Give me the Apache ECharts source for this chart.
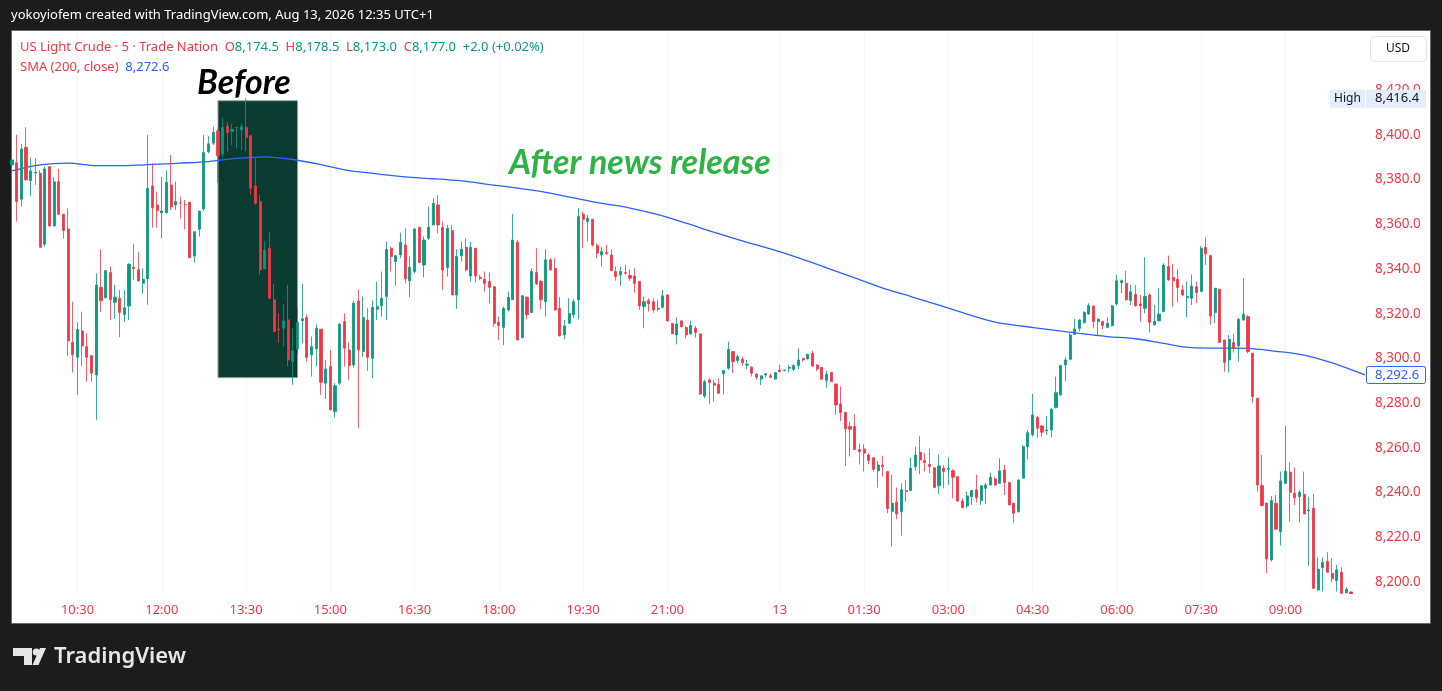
<!DOCTYPE html>
<html>
<head>
<meta charset="utf-8">
<script src="https://cdn.jsdelivr.net/npm/echarts@6/dist/echarts.min.js"></script>
<style>
html,body{margin:0;padding:0;background:#1c1c1c;}
#chart{width:1442px;height:691px;}
</style>
</head>
<body>
<div id="chart"></div>
<script>
// ---------- DATA ----------
// sessions: [day, first bar time, number of 5-minute bars] (trading break 22:00-23:00)
const sessions = [["12", "09:20", 152], ["12", "23:00", 138]];
// axis tick labels (category -> display text)
const tickCategories = ["12 10:30","12 12:00","12 13:30","12 15:00","12 16:30","12 18:00","12 19:30","12 21:00","13 00:00","13 01:30","13 03:00","13 04:30","13 06:00","13 07:30","13 09:00"];
const tickLabels = ["10:30","12:00","13:30","15:00","16:30","18:00","19:30","21:00","13","01:30","03:00","04:30","06:00","07:30","09:00"];
const priceTicks = [8200,8220,8240,8260,8280,8300,8320,8340,8360,8380,8400,8420];

// bars [open, high, low, close] — Aug 12, 09:20 .. 21:55
const barsAug12 = [
[8386.6,8392.0,8385.0,8388.8],[8387.6,8400.0,8361.2,8370.2],[8371.2,8396.0,8368.0,8393.7],[8394.5,8403.4,8379.5,8379.9],
[8379.6,8389.9,8372.7,8383.9],[8383.0,8389.6,8377.6,8383.3],[8382.8,8384.3,8349.7,8349.7],[8351.1,8385.8,8350.0,8384.8],
[8385.8,8386.0,8359.0,8359.3],[8359.3,8381.1,8359.0,8379.0],[8379.1,8384.8,8364.5,8364.5],[8364.5,8364.5,8353.5,8357.2],
[8357.9,8367.2,8301.1,8307.8],[8307.2,8325.4,8293.7,8301.6],[8300.5,8316.2,8283.7,8312.9],[8312.3,8320.9,8296.4,8305.6],
[8305.3,8311.3,8289.6,8300.5],[8301.3,8301.3,8289.6,8293.4],[8292.6,8338.1,8272.5,8332.9],[8331.8,8348.8,8320.9,8325.9],
[8327.1,8339.3,8327.0,8339.3],[8338.5,8341.1,8317.2,8326.2],[8325.1,8332.9,8317.7,8327.4],[8326.9,8330.6,8309.5,8320.6],
[8319.6,8330.6,8316.5,8322.7],[8323.5,8342.6,8317.2,8342.1],[8340.9,8351.2,8335.1,8340.2],[8339.7,8347.5,8334.4,8334.7],
[8333.6,8340.3,8328.9,8335.4],[8335.7,8400.0,8324.0,8376.1],[8377.2,8387.3,8358.5,8367.5],[8368.7,8374.6,8358.5,8366.1],
[8365.1,8381.1,8353.8,8366.0],[8365.2,8384.1,8364.9,8378.8],[8377.6,8391.0,8366.4,8367.8],[8368.7,8379.1,8366.4,8370.2],
[8369.6,8372.4,8362.6,8369.6],[8368.8,8370.9,8357.8,8368.8],[8369.9,8369.9,8344.8,8345.1],[8345.8,8356.7,8342.9,8356.7],
[8357.8,8366.0,8354.5,8366.0],[8366.9,8400.0,8366.0,8392.1],[8392.5,8399.5,8391.8,8396.0],[8396.3,8403.7,8395.5,8401.2],
[8401.8,8402.4,8378.8,8390.6],[8391.4,8407.5,8389.9,8403.4],[8404.0,8406.0,8392.5,8401.0],[8401.5,8404.8,8395.5,8402.5],
[8403.3,8403.6,8394.0,8403.3],[8402.2,8405.2,8393.3,8403.7],[8403.4,8416.4,8392.8,8398.8],[8399.6,8400.0,8373.2,8376.1],
[8377.2,8389.6,8368.7,8369.4],[8370.2,8373.2,8337.4,8339.6],[8340.0,8352.6,8340.0,8348.5],[8349.3,8356.5,8326.6,8326.9],
[8326.2,8333.3,8311.7,8312.0],[8313.2,8320.2,8307.2,8312.8],[8313.5,8324.2,8305.3,8316.8],[8317.2,8332.9,8296.4,8299.3],
[8298.6,8313.5,8288.2,8303.4],[8304.3,8322.5,8301.9,8316.0],[8316.9,8333.3,8306.8,8317.7],[8318.3,8319.8,8298.6,8300.5],
[8301.6,8309.8,8291.9,8305.3],[8304.3,8315.3,8296.4,8313.5],[8313.1,8313.1,8283.7,8289.3],[8288.9,8299.3,8281.9,8295.3],
[8296.4,8303.8,8277.0,8277.0],[8276.2,8288.9,8273.5,8287.8],[8288.9,8315.7,8288.2,8315.3],[8316.5,8320.2,8296.4,8304.6],
[8303.8,8307.2,8290.4,8296.8],[8297.1,8325.9,8295.9,8324.7],[8325.7,8331.0,8268.8,8303.8],[8303.1,8327.7,8300.8,8318.3],
[8317.2,8322.5,8294.4,8300.5],[8300.1,8325.9,8291.1,8322.9],[8322.0,8334.4,8317.2,8323.2],[8323.6,8338.9,8318.7,8326.9],
[8327.7,8352.3,8317.2,8348.8],[8349.3,8350.0,8338.9,8345.6],[8343.3,8346.3,8332.6,8345.9],[8346.3,8356.3,8344.8,8352.0],
[8350.8,8358.2,8333.6,8335.6],[8334.7,8345.6,8327.4,8340.8],[8338.9,8358.2,8338.1,8357.9],[8358.7,8358.7,8342.6,8342.9],
[8341.8,8354.5,8336.3,8353.0],[8353.8,8367.9,8353.0,8358.7],[8359.7,8371.7,8359.7,8369.4],[8368.7,8372.9,8356.0,8359.7],
[8358.7,8361.2,8330.7,8339.6],[8340.6,8359.7,8336.6,8358.2],[8357.2,8359.7,8328.4,8328.4],[8328.4,8348.9,8322.2,8345.6],
[8345.9,8352.3,8343.3,8348.9],[8349.7,8353.8,8338.9,8339.6],[8336.9,8352.3,8334.4,8349.7],[8349.3,8349.3,8333.9,8336.9],
[8336.3,8337.4,8335.1,8335.7],[8335.4,8338.9,8329.9,8333.6],[8334.4,8338.4,8324.7,8331.8],[8332.1,8332.1,8314.2,8315.7],
[8316.2,8318.7,8308.3,8314.7],[8313.9,8323.2,8306.0,8322.4],[8321.7,8329.9,8321.0,8327.4],[8326.2,8364.6,8326.2,8353.0],
[8352.0,8353.0,8308.0,8308.3],[8309.3,8328.4,8309.0,8328.0],[8327.4,8327.7,8317.5,8319.5],[8320.5,8340.3,8320.5,8338.9],
[8338.4,8349.3,8332.9,8333.3],[8334.4,8335.1,8322.0,8326.2],[8325.4,8348.9,8318.7,8344.1],[8344.1,8344.8,8339.3,8339.6],
[8340.3,8344.8,8321.4,8321.7],[8322.4,8327.4,8309.8,8310.2],[8310.5,8317.2,8308.6,8314.5],[8315.7,8326.9,8315.7,8320.2],
[8319.5,8326.5,8318.0,8325.4],[8326.2,8367.2,8317.5,8363.5],[8364.5,8365.7,8349.3,8362.3],[8361.2,8364.2,8352.3,8362.7],
[8362.3,8362.3,8350.0,8350.8],[8350.5,8351.5,8344.8,8347.1],[8346.3,8350.0,8341.1,8347.8],[8347.4,8350.8,8346.3,8346.9],
[8346.3,8348.8,8339.3,8339.3],[8338.9,8341.1,8334.8,8336.6],[8337.4,8341.1,8332.4,8338.9],[8338.4,8341.8,8337.4,8338.1],
[8337.1,8339.9,8334.8,8335.9],[8336.9,8340.3,8329.5,8333.6],[8334.4,8334.4,8321.7,8323.5],[8323.2,8327.7,8313.5,8325.4],
[8325.9,8326.9,8321.0,8324.4],[8325.4,8326.9,8320.5,8321.7],[8322.0,8326.2,8321.0,8322.4],[8322.9,8330.7,8322.4,8328.0],
[8328.4,8328.7,8316.5,8316.8],[8315.7,8315.7,8311.0,8311.0],[8310.5,8318.4,8306.3,8315.4],[8316.8,8317.2,8313.8,8314.2],
[8313.8,8314.5,8309.0,8310.5],[8311.0,8316.9,8310.5,8314.7],[8313.5,8314.5,8309.3,8311.6],[8311.0,8311.0,8283.7,8284.1],
[8283.2,8290.4,8282.2,8289.6],[8290.4,8291.1,8279.6,8289.2],[8288.9,8290.4,8280.7,8288.0],[8288.4,8291.1,8284.1,8284.4]
];
// bars [open, high, low, close] — from 23:00 (Aug 12) onward
const barsAug13 = [
[8293.1,8294.9,8283.7,8294.6],[8295.6,8307.5,8294.9,8304.1],[8303.1,8303.1,8293.4,8298.6],[8299.0,8301.6,8297.8,8300.8],
[8299.6,8300.8,8296.8,8298.1],[8297.0,8299.3,8295.2,8297.4],[8296.1,8296.4,8291.9,8293.4],[8292.9,8293.4,8290.4,8291.6],
[8290.8,8292.3,8288.1,8292.2],[8292.6,8293.4,8291.4,8293.1],[8292.3,8293.4,8291.1,8291.6],[8290.8,8293.8,8290.4,8293.7],
[8294.8,8297.1,8293.8,8294.1],[8294.5,8295.1,8294.4,8294.8],[8295.6,8297.1,8293.8,8296.0],[8295.1,8297.4,8294.4,8296.8],
[8296.8,8304.5,8295.3,8299.3],[8300.1,8300.1,8298.6,8299.3],[8299.8,8302.0,8299.6,8301.9],[8302.3,8303.4,8296.3,8296.6],
[8297.1,8297.4,8294.4,8295.3],[8296.0,8296.0,8290.4,8290.7],[8290.2,8294.4,8286.9,8292.9],[8293.7,8293.7,8289.6,8289.6],
[8288.6,8288.6,8274.7,8279.2],[8279.6,8287.4,8272.0,8275.8],[8275.9,8275.9,8251.9,8268.5],[8269.5,8271.7,8256.1,8268.3],
[8269.5,8275.0,8259.0,8259.3],[8259.3,8262.0,8252.6,8258.3],[8259.5,8261.6,8249.4,8257.6],[8256.8,8257.6,8252.8,8254.3],
[8255.6,8255.6,8249.4,8250.4],[8249.7,8254.1,8242.2,8252.3],[8252.3,8256.5,8247.1,8251.6],[8249.4,8249.4,8230.7,8232.7],
[8231.5,8247.9,8215.8,8235.2],[8235.6,8242.2,8228.0,8230.4],[8231.5,8244.1,8220.7,8241.2],[8240.9,8245.6,8235.9,8240.4],
[8240.9,8255.6,8240.9,8250.9],[8251.6,8260.5,8249.7,8256.8],[8258.0,8265.3,8248.2,8254.6],[8254.3,8257.6,8249.4,8253.4],
[8252.6,8259.5,8248.6,8251.6],[8251.1,8251.1,8241.9,8242.3],[8243.0,8257.1,8239.4,8251.9],[8250.9,8252.3,8241.9,8249.4],
[8250.4,8255.8,8243.4,8250.9],[8249.7,8250.4,8237.4,8246.8],[8247.1,8247.1,8235.9,8236.2],[8236.2,8237.4,8233.0,8233.3],
[8234.0,8240.4,8233.0,8238.5],[8238.2,8241.2,8234.4,8240.9],[8241.2,8247.9,8235.6,8237.7],[8236.4,8243.4,8234.4,8243.0],
[8241.9,8244.4,8234.9,8243.4],[8243.4,8248.9,8243.0,8246.8],[8246.1,8247.1,8243.0,8243.4],[8244.1,8255.3,8244.1,8249.7],
[8250.1,8252.3,8238.9,8244.4],[8244.4,8244.9,8234.4,8234.4],[8235.2,8235.2,8226.5,8230.7],[8231.5,8245.9,8231.0,8245.6],
[8246.4,8261.3,8246.4,8260.5],[8260.5,8268.0,8254.9,8266.8],[8265.8,8284.1,8265.0,8274.7],[8273.7,8274.3,8264.7,8268.8],
[8269.8,8270.2,8265.0,8267.0],[8267.6,8274.3,8265.8,8268.0],[8268.0,8277.7,8264.7,8277.3],[8278.1,8291.9,8277.7,8284.7],
[8283.7,8297.1,8283.2,8296.8],[8297.1,8300.5,8289.9,8299.3],[8299.6,8311.3,8299.6,8310.5],[8310.8,8317.7,8310.5,8313.2],
[8313.5,8317.5,8312.0,8317.2],[8316.0,8321.0,8315.7,8320.7],[8319.9,8324.7,8319.5,8323.6],[8323.5,8323.5,8313.5,8316.5],
[8316.5,8318.0,8310.1,8317.5],[8316.5,8316.9,8313.0,8314.7],[8313.9,8318.4,8313.5,8315.7],[8314.7,8323.9,8314.3,8323.5],
[8324.4,8337.4,8323.5,8334.7],[8333.9,8335.4,8329.2,8334.8],[8333.6,8339.2,8325.9,8326.2],[8325.9,8332.9,8323.9,8329.8],
[8328.7,8332.9,8323.2,8323.6],[8324.4,8328.4,8316.5,8323.6],[8322.4,8345.3,8320.2,8327.7],[8328.4,8329.2,8311.6,8316.2],
[8315.0,8323.9,8315.0,8316.5],[8316.9,8331.4,8316.5,8319.8],[8321.0,8342.6,8320.7,8341.8],[8341.1,8346.0,8334.8,8335.1],
[8336.2,8342.3,8323.2,8334.7],[8335.4,8339.9,8325.0,8331.7],[8330.7,8332.9,8328.0,8328.4],[8327.2,8334.4,8318.4,8327.7],
[8326.9,8337.6,8323.9,8332.4],[8332.1,8334.4,8324.7,8329.5],[8329.9,8350.3,8329.9,8349.3],[8349.7,8354.2,8341.8,8346.8],
[8346.0,8346.0,8315.0,8319.0],[8320.5,8331.4,8315.7,8331.4],[8331.0,8331.0,8307.1,8307.1],[8308.3,8308.3,8294.1,8298.3],
[8299.3,8310.5,8293.7,8308.6],[8307.1,8311.0,8302.6,8304.5],[8305.6,8318.0,8298.6,8317.5],[8317.2,8335.9,8316.9,8319.8],
[8318.7,8319.5,8302.3,8303.1],[8302.3,8302.3,8280.2,8282.9],[8282.2,8282.2,8240.4,8243.4],[8243.1,8256.8,8233.7,8234.2],
[8235.2,8235.5,8203.9,8210.3],[8209.9,8238.5,8209.1,8236.4],[8235.2,8238.9,8223.3,8223.6],[8222.5,8249.4,8216.3,8245.2],
[8244.1,8269.8,8243.9,8249.4],[8249.1,8253.5,8227.0,8240.1],[8239.7,8251.2,8234.4,8237.7],[8238.2,8241.2,8226.6,8240.1],
[8239.2,8249.4,8230.4,8230.4],[8231.8,8238.2,8207.2,8232.2],[8233.0,8239.4,8196.7,8197.2],[8196.4,8211.0,8196.1,8205.7],
[8206.4,8211.0,8195.7,8208.8],[8209.1,8213.3,8204.3,8204.3],[8203.9,8210.6,8199.9,8201.4],[8200.6,8207.6,8195.7,8205.4],
[8204.3,8206.6,8192.0,8194.9],[8195.2,8197.6,8194.9,8196.7],[8195.5,8195.8,8190.0,8192.0]
];
// SMA(200, close) read at bar indices [barIndex, value]
const smaPoints = [[0,8383.9],[6,8386.6],[12,8387.4],[18,8386.3],[24,8386.3],[30,8386.8],[36,8387.4],[42,8388.1],
[48,8389.5],[54,8390.2],[60,8389.0],[66,8386.7],[72,8384.0],[78,8382.6],[84,8381.2],[90,8380.4],[96,8379.4],
[102,8377.8],[108,8376.2],[114,8374.3],[120,8371.8],[126,8369.4],[132,8367.3],[138,8364.3],[144,8360.5],
[150,8356.4],[156,8352.6],[162,8349.0],[168,8345.0],[174,8340.5],[180,8336.0],[186,8331.5],[192,8327.7],
[198,8323.8],[204,8319.8],[210,8316.2],[216,8314.4],[222,8312.8],[228,8311.2],[234,8309.8],[240,8308.8],
[246,8306.7],[252,8304.8],[258,8304.6],[264,8304.5],[270,8303.2],[276,8301.5],[282,8298.0],[286,8295.0],[289,8292.6]];
// "Before" box: [first bar index, last bar index, top price, bottom price]
const beforeBox = [44, 61, 8415.3, 8291.4];
const highValue = 8416.4;
const smaLastValue = 8292.6;
const priceMin = 8194.6, priceMax = 8446.5;

// ---------- BUILD ----------
function pad(n){return (n<10?'0':'')+n;}
const categories = [];
sessions.forEach(function(s){
  let day = parseInt(s[0],10);
  let parts = s[1].split(':');
  let m = parseInt(parts[0],10)*60 + parseInt(parts[1],10);
  for (let k=0;k<s[2];k++){
    let mm = m + k*5;
    let d = day + Math.floor(mm/1440);
    mm = mm % 1440;
    categories.push(d + ' ' + pad(Math.floor(mm/60)) + ':' + pad(mm%60));
  }
});
const tickMap = {};
tickCategories.forEach(function(c,i){tickMap[c]=tickLabels[i];});
const allBars = barsAug12.concat(barsAug13);
const candleData = allBars.map(function(b){return [b[0], b[3], b[2], b[1]];});

function fmtPrice(v){
  const s = v.toFixed(1);
  const p = s.split('.');
  return p[0].replace(/\B(?=(\d{3})+(?!\d))/g, ',') + '.' + p[1];
}

const FONT = '"Noto Sans", "DejaVu Sans", sans-serif';
const RED = '#f23645', GREEN = '#089981', BLUE = '#2962ff';
const showTick = function(idx, val){ return tickMap[val] !== undefined; };

const chart = echarts.init(document.getElementById('chart'), null, {renderer:'canvas', width:1442, height:691});

const option = {
  backgroundColor: '#1c1c1c',
  animation: false,
  grid: {left: 12, right: 77, top: 31, bottom: 97, containLabel: false},
  xAxis: {
    type: 'category',
    data: categories,
    boundaryGap: false,
    axisLine: {show: false},
    axisTick: {show: false},
    splitLine: {show: true, interval: showTick, lineStyle: {color: '#f4f4f4', width: 1}},
    axisLabel: {
      interval: showTick,
      formatter: function(v){ return tickMap[v] || ''; },
      color: RED, fontSize: 13, fontFamily: FONT, margin: 10
    }
  },
  yAxis: {
    type: 'value',
    position: 'right',
    min: priceMin,
    max: priceMax,
    scale: true,
    axisLine: {show: false},
    axisTick: {show: false},
    splitLine: {show: false},
    axisLabel: {
      customValues: priceTicks,
      formatter: function(v){ return fmtPrice(v); },
      color: RED, fontSize: 13.5, fontFamily: FONT, margin: 10, align: 'left'
    }
  },
  series: [
    {
      type: 'line',
      name: 'SMA',
      data: smaPoints,
      smooth: 0.3,
      symbol: 'none',
      lineStyle: {color: BLUE, width: 1.3},
      z: 2
    },
    {
      type: 'candlestick',
      name: 'US Light Crude',
      data: candleData,
      barWidth: 2.6,
      clip: true,
      itemStyle: {
        color: GREEN, color0: RED,
        borderColor: 'rgba(8,153,129,0.8)', borderColor0: 'rgba(242,54,69,0.8)',
        borderWidth: 1
      },
      markArea: {
        silent: true,
        itemStyle: {color: '#0b3a30', borderColor: '#8fa39a', borderWidth: 1},
        data: [[{xAxis: beforeBox[0], yAxis: beforeBox[2]}, {xAxis: beforeBox[1], yAxis: beforeBox[3]}]]
      },
      z: 3
    }
  ],
  graphic: [
    {id:'bgwhite', type:'rect', z:-10, shape:{x:11.5, y:30.5, width:1419, height:593}, style:{fill:'#ffffff', stroke:'#6a6a6a', lineWidth:1}},
    {id:'topbar', type:'text', x:11, y:15, style:{text:'yokoyiofem created with TradingView.com, Aug 13, 2026 12:35 UTC+1', fill:'#ffffff', font:'13px '+FONT, verticalAlign:'middle'}},
    {id:'legend1', type:'text', x:20, y:47, z:50, style:{
      text:'{r|US Light Crude · 5 · Trade Nation}  {r|O}{g|8,174.5}  {r|H}{g|8,178.5}  {r|L}{g|8,173.0}  {r|C}{g|8,177.0}  {g|+2.0 (+0.02%)}',
      verticalAlign:'middle',
      rich:{ r:{fill:RED, font:'13px '+FONT}, g:{fill:GREEN, font:'13px '+FONT} }
    }},
    {id:'legend2', type:'text', x:20, y:67, z:50, style:{
      text:'{r|SMA (200, close)}  {b|8,272.6}',
      verticalAlign:'middle',
      rich:{ r:{fill:RED, font:'13px '+FONT}, b:{fill:BLUE, font:'13px '+FONT} }
    }},
    {id:'before', type:'text', x:244, y:83, z:50, style:{text:'Before', fill:'#000000', font:'italic bold 34px Lato, '+FONT, align:'center', verticalAlign:'middle'}},
    {id:'after', type:'text', x:640, y:163, z:50, style:{text:'After news release', fill:'#2fb344', font:'italic bold 34px Lato, '+FONT, align:'center', verticalAlign:'middle'}},
    {id:'usdbox', type:'rect', z:50, shape:{x:1370.5, y:36.5, width:56, height:25, r:4}, style:{fill:'#ffffff', stroke:'#e0e3eb', lineWidth:1}},
    {id:'usdtext', type:'text', x:1398, y:49, z:51, style:{text:'USD', fill:'#131722', font:'12px '+FONT, align:'center', verticalAlign:'middle'}},
    {id:'logoT', type:'polygon', z:50, shape:{points:[[13,648],[32,648],[32,665],[24,665],[24,656],[13,656]]}, style:{fill:'#e6e6e6'}},
    {id:'logoDot', type:'circle', z:50, shape:{cx:36.3, cy:652, r:3.6}, style:{fill:'#e6e6e6'}},
    {id:'logoSlash', type:'polygon', z:50, shape:{points:[[40,648],[46,648],[38.5,665],[32.5,665]]}, style:{fill:'#e6e6e6'}},
    {id:'logoText', type:'text', x:54, y:657, z:50, style:{text:'TradingView', fill:'#e6e6e6', font:'600 22px '+FONT, verticalAlign:'middle'}}
  ]
};
chart.setOption(option);

// plot bottom edge and axis price tags positioned through the axis scale
const yBottom = chart.convertToPixel({yAxisIndex:0}, priceMin);
const yHigh = chart.convertToPixel({yAxisIndex:0}, highValue);
const ySma = chart.convertToPixel({yAxisIndex:0}, smaLastValue);
chart.setOption({graphic: [
  {id:'clipCover', type:'rect', z:40, shape:{x:12, y:yBottom, width:1353, height:8}, style:{fill:'#ffffff'}},
  {id:'clipCover2', type:'rect', z:40, shape:{x:1320, y:yBottom, width:45, height:16}, style:{fill:'#ffffff'}},
  {id:'hiBoxL', type:'rect', z:60, shape:{x:1330, y:yHigh-8.5, width:35, height:18}, style:{fill:'#e3edfc'}},
  {id:'hiBoxR', type:'rect', z:60, shape:{x:1366, y:yHigh-8.5, width:60, height:18}, style:{fill:'#e3edfc'}},
  {id:'hiText1', type:'text', x:1347.5, y:yHigh+0.5, z:61, style:{text:'High', fill:'#131722', font:'12px '+FONT, align:'center', verticalAlign:'middle'}},
  {id:'hiText2', type:'text', x:1375, y:yHigh+0.5, z:61, style:{text:fmtPrice(highValue), fill:'#131722', font:'13px '+FONT, verticalAlign:'middle'}},
  {id:'smaBox', type:'rect', z:60, shape:{x:1366.5, y:ySma-8.5, width:59, height:17, r:2}, style:{fill:'#ffffff', stroke:BLUE, lineWidth:1}},
  {id:'smaText', type:'text', x:1375, y:ySma+0.5, z:61, style:{text:fmtPrice(smaLastValue), fill:BLUE, font:'13px '+FONT, verticalAlign:'middle'}}
]});
</script>
</body>
</html>
